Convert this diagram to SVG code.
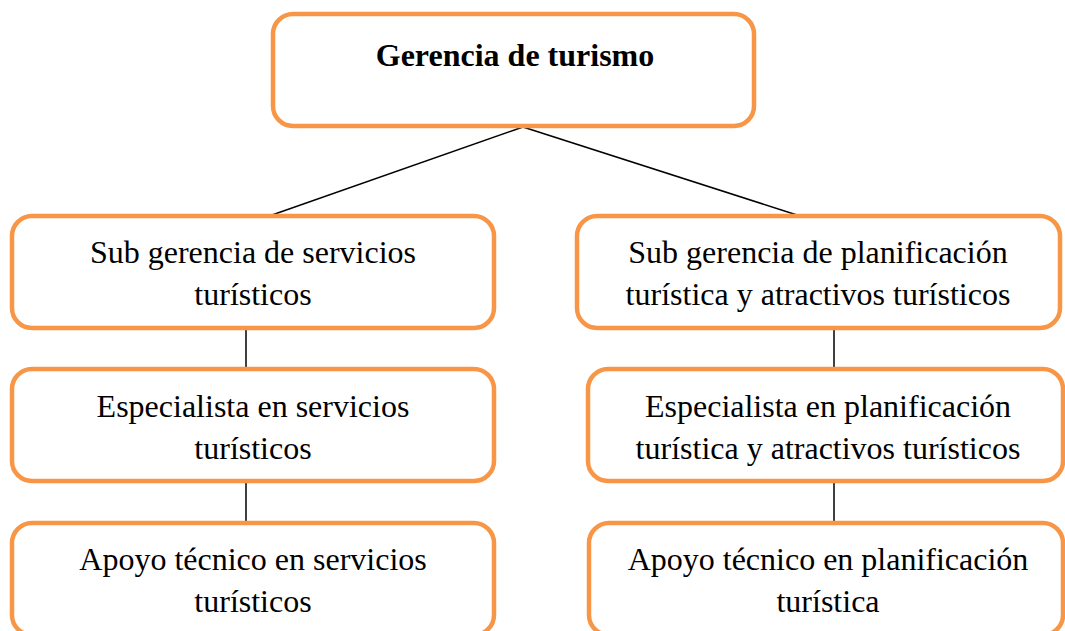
<svg xmlns="http://www.w3.org/2000/svg" width="1065" height="631" viewBox="0 0 1065 631">
<style>
.box{fill:#ffffff;stroke:#F79646;stroke-width:4.5}
.t{font-family:"Liberation Serif","Times New Roman",serif;font-size:32px;fill:#000;text-anchor:middle}
.b{font-weight:bold}
.c{stroke:#000;stroke-width:1.5;fill:none}
</style>
<rect width="1065" height="631" fill="#ffffff"/>
<g id="connectors">
<line class="c" x1="523" y1="127" x2="272" y2="215"/>
<line class="c" x1="523" y1="127" x2="797" y2="215"/>
<line class="c" x1="246" y1="330" x2="246" y2="367"/>
<line class="c" x1="246" y1="483" x2="246" y2="521"/>
<line class="c" x1="834" y1="330" x2="834" y2="367"/>
<line class="c" x1="834" y1="483" x2="834" y2="521"/>
</g>
<g id="gerencia">
<rect class="box" x="273" y="14" width="481" height="112" rx="20"/>
<text class="t b" x="515" y="66" font-size="33">Gerencia de turismo</text>
</g>
<g id="sub-servicios">
<rect class="box" x="12" y="216" width="482" height="112" rx="20"/>
<text class="t" x="253" y="263">Sub gerencia de servicios</text>
<text class="t" x="253" y="305">turísticos</text>
</g>
<g id="esp-servicios">
<rect class="box" x="12" y="369" width="482" height="112" rx="20"/>
<text class="t" x="253" y="417">Especialista en servicios</text>
<text class="t" x="253" y="459">turísticos</text>
</g>
<g id="apoyo-servicios">
<rect class="box" x="12" y="523" width="482" height="112" rx="20"/>
<text class="t" x="253" y="570">Apoyo técnico en servicios</text>
<text class="t" x="253" y="612">turísticos</text>
</g>
<g id="sub-planificacion">
<rect class="box" x="577" y="216" width="483" height="112" rx="20"/>
<text class="t" x="818" y="263">Sub gerencia de planificación</text>
<text class="t" x="818" y="305">turística y atractivos turísticos</text>
</g>
<g id="esp-planificacion">
<rect class="box" x="588" y="369" width="475" height="112" rx="20"/>
<text class="t" x="828" y="417">Especialista en planificación</text>
<text class="t" x="828" y="459">turística y atractivos turísticos</text>
</g>
<g id="apoyo-planificacion">
<rect class="box" x="589" y="523" width="474" height="112" rx="20"/>
<text class="t" x="828" y="570">Apoyo técnico en planificación</text>
<text class="t" x="828" y="612">turística</text>
</g>
</svg>
